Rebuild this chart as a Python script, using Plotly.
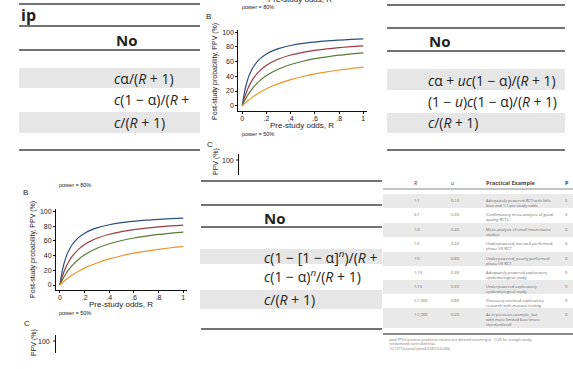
import plotly.graph_objects as go

W, H = 573, 369

# ---------------- data ----------------
R_odds = [0, 0.01, 0.02, 0.03, 0.05, 0.07, 0.1, 0.15, 0.2, 0.25, 0.3, 0.4, 0.5, 0.6, 0.7, 0.8, 0.9, 1.0]
ppv_u05 = [0, 11.1, 20.0, 27.2, 38.3, 46.4, 55.1, 64.5, 70.5, 74.7, 77.8, 82.0, 84.8, 86.7, 88.2, 89.3, 90.2, 90.9]
ppv_u20 = [0, 6.3, 11.9, 16.7, 24.9, 31.4, 39.2, 48.5, 55.1, 59.9, 63.6, 69.0, 72.7, 75.4, 77.5, 79.1, 80.4, 81.4]
ppv_u50 = [0, 3.7, 7.0, 10.1, 15.7, 20.5, 26.7, 34.8, 41.0, 46.0, 50.0, 56.1, 60.6, 64.0, 66.6, 68.8, 70.5, 72.0]
ppv_u80 = [0, 1.6, 3.1, 4.6, 7.4, 10.0, 13.5, 18.6, 23.0, 26.8, 30.0, 35.5, 39.8, 43.3, 46.2, 48.6, 50.7, 52.5]
series = [ppv_u05, ppv_u20, ppv_u50, ppv_u80]
series_colors = ["#2b4f7e", "#9a3b45", "#5b7b36", "#e8962e"]

x_tickvals = [0, 0.2, 0.4, 0.6, 0.8, 1.0]
x_ticktext = ["0", ".2", ".4", ".6", ".8", "1"]
y_tickvals = [0, 20, 40, 60, 80, 100]
y_ticktext = ["0", "20", "40", "60", "80", "100"]

tl_rows = ["<i>c</i>α/(<i>R</i> + 1)", "<i>c</i>(1 − α)/(<i>R</i> +", "<i>c</i>/(<i>R</i> + 1)"]
tr_rows = ["<i>c</i>α + <i>uc</i>(1 − α)/(<i>R</i> + 1)", "(1 − <i>u</i>)<i>c</i>(1 − α)/(<i>R</i> + 1)", "<i>c</i>/(<i>R</i> + 1)"]
bm_rows = ["<i>c</i>(1 − [1 − α]<sup><i>n</i></sup>)/(<i>R</i> +", "<i>c</i>(1 − α)<sup><i>n</i></sup>/(<i>R</i> + 1)", "<i>c</i>/(<i>R</i> + 1)"]

t4_R = ["1:1", "2:1", "1:3", "1:5", "1:5", "1:10", "1:10", "1:1,000", "1:1,000"]
t4_u = ["0.10", "0.30", "0.40", "0.20", "0.80", "0.30", "0.30", "0.80", "0.20"]
t4_example = [
    "Adequately powered RCT with little<br>bias and 1:1 pre-study odds",
    "Confirmatory meta-analysis of good-<br>quality RCTs",
    "Meta-analysis of small inconclusive<br>studies",
    "Underpowered, but well-performed<br>phase I/II RCT",
    "Underpowered, poorly performed<br>phase I/II RCT",
    "Adequately powered exploratory<br>epidemiological study",
    "Underpowered exploratory<br>epidemiological study",
    "Discovery-oriented exploratory<br>research with massive testing",
    "As in previous example, but<br>with more limited bias (more<br>standardized)",
]
t4_ppv = ["0", "0", "0", "0", "0", "0", "0", "0", "0"]
t4_footnotes = [
    "ated PPVs (positive predictive values) are derived assuming α = 0.05 for a single study.",
    "randomized controlled trial.",
    "10.1371/journal.pmed.0020124.t004",
]

# ---------------- helpers ----------------
def X(px):
    return px / W

def Y(py):
    return 1 - py / H

shapes = []
annotations = []

CHART_FONT = "Liberation Sans Narrow, Liberation Sans, Arial, sans-serif"
TABLE_FONT = "Open Sans, Noto Sans, sans-serif"

def ann(text, px, py, size, xanchor="left", yanchor="middle", color="#222", family=TABLE_FONT, angle=0, align="left"):
    annotations.append(dict(text=text, x=X(px), y=Y(py), xref="paper", yref="paper",
                            xanchor=xanchor, yanchor=yanchor, showarrow=False, align=align,
                            textangle=angle, font=dict(size=size, color=color, family=family)))

def rule(x0, x1, py, width=2, color="#727272"):
    shapes.append(dict(type="line", xref="paper", yref="paper", x0=X(x0), x1=X(x1), y0=Y(py), y1=Y(py),
                       line=dict(color=color, width=width)))

def band(x0, x1, y0, y1, color="#e6e6e6"):
    shapes.append(dict(type="rect", xref="paper", yref="paper", x0=X(x0), x1=X(x1), y0=Y(y1), y1=Y(y0),
                       fillcolor=color, line=dict(width=0), layer="below"))

def vline(px, y0, y1, width=1, color="#111"):
    shapes.append(dict(type="line", xref="paper", yref="paper", x0=X(px), x1=X(px), y0=Y(y0), y1=Y(y1),
                       line=dict(color=color, width=width)))

def hline(x0, x1, py, width=1, color="#111"):
    shapes.append(dict(type="line", xref="paper", yref="paper", x0=X(x0), x1=X(x1), y0=Y(py), y1=Y(py),
                       line=dict(color=color, width=width)))

fig = go.Figure()

# ---------------- charts ----------------
for axn in ["", "2"]:
    for ys, col in zip(series, series_colors):
        fig.add_trace(go.Scatter(x=R_odds, y=ys, mode="lines", line=dict(color=col, width=1.2, shape="spline"),
                                 xaxis="x" + axn, yaxis="y" + axn, hoverinfo="skip", showlegend=False))

axis_common = dict(showline=True, linecolor="#111", linewidth=1, ticks="outside", ticklen=2, tickwidth=1,
                   tickcolor="#111", showgrid=False, zeroline=False, fixedrange=True,
                   tickfont=dict(size=7, color="#222", family=CHART_FONT))

fig.update_layout(
    xaxis=dict(domain=[X(238.3), X(366.7)], range=[-0.033, 1.028], anchor="y",
               tickvals=x_tickvals, ticktext=x_ticktext, ticklabelstandoff=-1, **axis_common),
    yaxis=dict(domain=[Y(111), Y(30)], range=[-7.2, 103.1], anchor="x",
               tickvals=y_tickvals, ticktext=y_ticktext, **axis_common),
    xaxis2=dict(domain=[X(56), X(186.7)], range=[-0.032, 1.028], anchor="y2",
                tickvals=x_tickvals, ticktext=x_ticktext, ticklabelstandoff=-1, **axis_common),
    yaxis2=dict(domain=[Y(290), Y(208.5)], range=[-6.8, 104.1], anchor="x2",
                tickvals=y_tickvals, ticktext=y_ticktext, **axis_common),
)

# chart texts (top-middle)
ann("Pre-study odds, R", 300, -1, 8, xanchor="center", family=CHART_FONT)
ann("power = 80%", 240, 7, 5.5, family=CHART_FONT)
ann("B", 204, 16, 8, family=CHART_FONT)
ann("Post-study probability, PPV (%)", 215, 72, 7, xanchor="center", family=CHART_FONT, angle=-90)
ann("Pre-study odds, R", 302, 125.5, 8, xanchor="center", family=CHART_FONT)
ann("power = 50%", 240, 133.5, 5.5, family=CHART_FONT)
ann("C", 205, 144, 8, family=CHART_FONT)
ann("PPV (%)", 216, 162, 7, xanchor="center", family=CHART_FONT, angle=-90)
ann("100", 236, 160, 7, xanchor="right", family=CHART_FONT)
vline(238.5, 154, 175)
hline(236, 238.5, 160)

# chart texts (bottom-left)
ann("power = 80%", 57, 185, 5.5, family=CHART_FONT)
ann("B", 21, 193, 8, family=CHART_FONT)
ann("Post-study probability, PPV (%)", 33, 250, 7, xanchor="center", family=CHART_FONT, angle=-90)
ann("Pre-study odds, R", 121, 304, 8, xanchor="center", family=CHART_FONT)
ann("power = 50%", 57, 312.5, 5.5, family=CHART_FONT)
ann("C", 22, 323, 8, family=CHART_FONT)
ann("PPV (%)", 34, 343, 7, xanchor="center", family=CHART_FONT, angle=-90)
ann("100", 52, 341, 7, xanchor="right", family=CHART_FONT)
vline(55.5, 335, 353)
hline(53, 55.5, 341)

# ---------------- top-left table ----------------
for py in [4, 26, 50, 150]:
    rule(19, 200, py)
band(19, 200, 68, 88)
band(19, 200, 112, 133)
ann("<b>ip</b>", 19, 15, 16)
ann("<b>No</b>", 114, 40, 15)
for txt, py in zip(tl_rows, [79, 100, 122]):
    ann(txt, 112, py, 14)

# ---------------- top-right table ----------------
for py in [5, 28, 51, 150]:
    rule(387, 565, py)
band(387, 565, 69, 90)
band(387, 565, 113, 133)
ann("<b>No</b>", 427, 41, 15)
for txt, py in zip(tr_rows, [80, 101, 122]):
    ann(txt, 426, py, 13.8)

# ---------------- bottom-middle table ----------------
for py in [181, 205, 227, 329]:
    rule(201, 382, py)
band(200, 382, 249, 264)
band(200, 382, 290, 309)
ann("<b>No</b>", 262, 218, 15)
for txt, py in zip(bm_rows, [257, 276, 299]):
    ann(txt, 262, py, 14)

# ---------------- bottom-right table (small) ----------------
GRAY_TXT = "#666"
ann("<i>R</i>", 412, 183, 5.5, color="#444")
ann("<i>u</i>", 449, 183, 5.5, color="#444")
ann("<b>Practical Example</b>", 484, 183, 5.5, color="#444")
ann("<b>P</b>", 563, 183, 5.5, color="#444")
rule(383, 573, 189, width=1.2, color="#888")
row_bounds = [(194, 208), (208, 222), (223, 237), (237, 251), (252, 266), (266, 280), (280, 294), (294, 308), (308, 328)]
for i, (y0, y1) in enumerate(row_bounds):
    if i % 2 == 0:
        band(383, 573, y0, y1, color="#e9e9e9")
for i, (y0, y1) in enumerate(row_bounds):
    top = y0 + 1.5
    ann(t4_R[i], 412, top, 4, yanchor="top", color=GRAY_TXT)
    ann(t4_u[i], 449, top, 4, yanchor="top", color=GRAY_TXT)
    ann(t4_example[i], 484, top, 4, yanchor="top", color=GRAY_TXT)
    ann(t4_ppv[i], 563, top, 4, yanchor="top", color=GRAY_TXT)
rule(383, 573, 334, width=1.8, color="#888")
for txt, py in zip(t4_footnotes, [339, 343.5, 348]):
    ann(txt, 387, py, 3.6, color="#777")

fig.update_layout(
    width=W, height=H, margin=dict(l=0, r=0, t=0, b=0),
    paper_bgcolor="white", plot_bgcolor="white", showlegend=False,
    shapes=shapes, annotations=annotations,
)

fig.write_html("out.html", config={"displayModeBar": False, "staticPlot": True},
               post_script="document.body.style.margin='0px';document.body.style.padding='0px';document.body.style.overflow='hidden';")
